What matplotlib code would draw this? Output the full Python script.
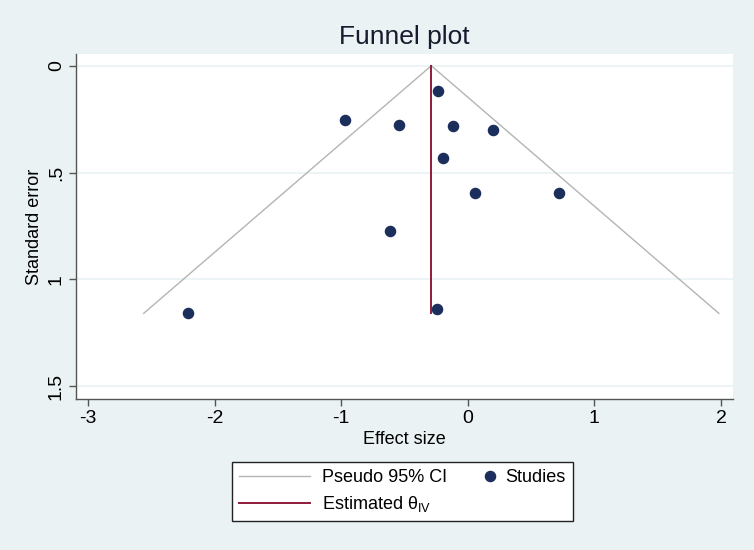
import numpy as np
import matplotlib
matplotlib.use("Agg")
import matplotlib.pyplot as plt
from matplotlib.lines import Line2D
from matplotlib.legend_handler import HandlerBase

plt.rcParams['font.family'] = ['Liberation Sans', 'DejaVu Sans']
plt.rcParams['mathtext.fontset'] = 'custom'
plt.rcParams['mathtext.rm'] = 'Liberation Sans'
plt.rcParams['axes.unicode_minus'] = False

# study estimates
effect = [-0.235, -0.968, -0.543, -0.115, 0.201, -0.196, 0.059, 0.720, -0.615, -0.246, -2.208]
se = [0.118, 0.254, 0.279, 0.284, 0.300, 0.432, 0.597, 0.594, 0.772, 1.138, 1.159]

xticks = [-3, -2, -1, 0, 1, 2]
yticks = [0, 0.5, 1, 1.5]
ytick_labels = ["0", ".5", "1", "1.5"]

bg = '#EAF2F3'
navy = '#1c2f5c'
maroon = '#8e1b3a'
gray = '#b4b4b4'
axcol = '#555555'

effect = np.array(effect)
se = np.array(se)
w = 1 / se**2
theta = np.sum(w * effect) / np.sum(w)
se_max = se.max()


class EndMarker(HandlerBase):
    # put the marker near the right end of the key, like Stata does
    def create_artists(self, legend, orig_handle, xdescent, ydescent,
                       width, height, fontsize, trans):
        m = Line2D([width - xdescent - 0.05 * width], [height / 2 - ydescent],
                   linestyle='none', marker='o',
                   markersize=orig_handle.get_markersize(),
                   color=orig_handle.get_color(), transform=trans)
        return [m]


fig = plt.figure(figsize=(7.54, 5.5), dpi=100, facecolor=bg)
ax = fig.add_axes([76 / 754, 1 - 399 / 550, 657 / 754, 345 / 550])
ax.set_facecolor('white')

for y in yticks:
    ax.axhline(y, color=bg, lw=1.2, zorder=0)

ci, = ax.plot([theta - 1.96 * se_max, theta, theta + 1.96 * se_max],
              [se_max, 0, se_max], color=gray, lw=1.0, zorder=1)
est, = ax.plot([theta, theta], [0, se_max], color=maroon, lw=1.4, zorder=2)
pts, = ax.plot(effect, se, 'o', linestyle='none', color=navy, markersize=7.3, zorder=3)

ax.set_xlim(-3.095, 2.095)
ax.set_ylim(1.56, -0.055)
ax.set_xticks(xticks)
ax.set_yticks(yticks)
ax.set_yticklabels(ytick_labels, rotation=90, va='center')

for s in ['top', 'right']:
    ax.spines[s].set_visible(False)
for s in ['left', 'bottom']:
    ax.spines[s].set_color(axcol)
    ax.spines[s].set_linewidth(1.0)
ax.tick_params(direction='out', length=5, width=1.0, color=axcol,
               labelsize=14, labelcolor='black', pad=3)

ax.set_xlabel("Effect size", fontsize=13, labelpad=3)
ax.set_ylabel("Standard error", fontsize=13)
ax.yaxis.set_label_coords(-0.05, 0.5)
ax.set_title("Funnel plot", fontsize=19, pad=7, color='#1a1a2e')

leg = fig.legend([ci, est, pts], ["Pseudo 95% CI", r"Estimated θ$_{\mathrm{IV}}$", "Studies"],
                 handler_map={pts: EndMarker()}, ncol=2, fontsize=13,
                 loc='center', bbox_to_anchor=(402.2 / 754, 1 - 491.5 / 550),
                 handlelength=3.93, handletextpad=0.65, columnspacing=-1.36,
                 borderpad=0.4, labelspacing=0.45, fancybox=False,
                 edgecolor='#222222', framealpha=1)
leg.get_frame().set_linewidth(1.0)

fig.savefig("out.png", dpi=100, facecolor=bg)
